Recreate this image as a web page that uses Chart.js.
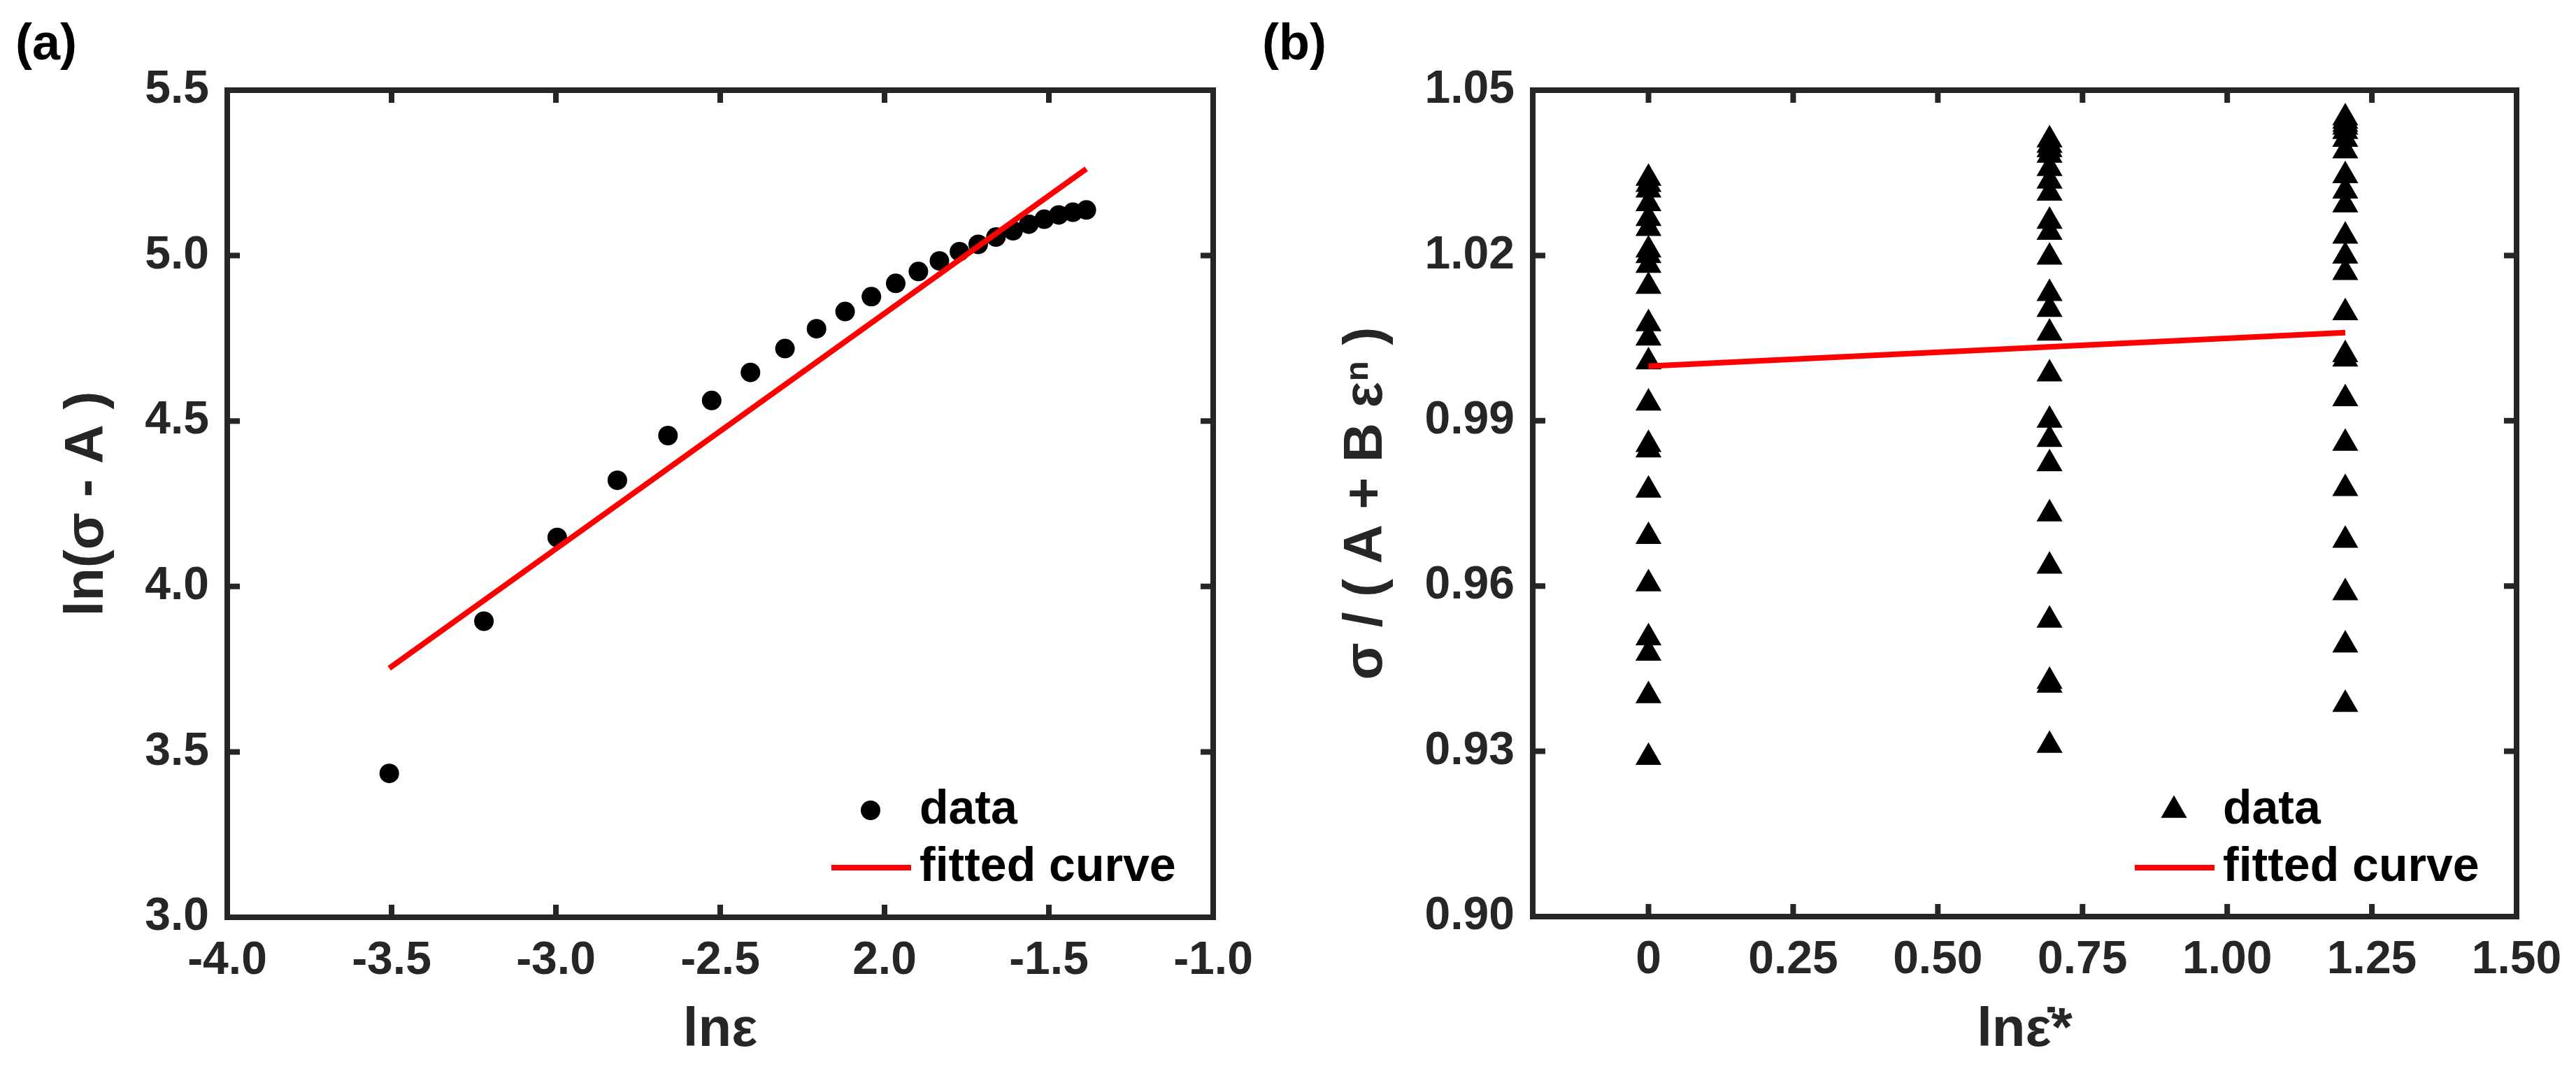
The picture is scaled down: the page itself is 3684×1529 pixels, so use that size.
<!DOCTYPE html>
<html>
<head>
<meta charset="utf-8">
<script src="https://cdn.jsdelivr.net/npm/chart.js@4.4.1/dist/chart.umd.min.js"></script>
<style>
  html, body { margin: 0; padding: 0; background: #fff; }
  #wrapA { position: absolute; left: 0; top: 0; }
  #wrapB { position: absolute; left: 1790px; top: 0; }
</style>
</head>
<body>
<div id="wrapA"><canvas id="chartA" width="1790" height="1529"></canvas></div>
<div id="wrapB"><canvas id="chartB" width="1894" height="1529"></canvas></div>
<script>
// ---- panel (a): ln(sigma - A) vs ln(strain)
const lnStrain = [-3.507, -3.219, -2.996, -2.813, -2.659, -2.526, -2.408, -2.303, -2.207, -2.120, -2.040, -1.966,
                  -1.897, -1.833, -1.772, -1.715, -1.661, -1.609, -1.561, -1.514, -1.470, -1.427, -1.386];
const lnStress = [3.435, 3.895, 4.148, 4.321, 4.456, 4.562, 4.647, 4.719, 4.779, 4.831, 4.876, 4.916,
                  4.952, 4.984, 5.012, 5.034, 5.056, 5.075, 5.095, 5.110, 5.123, 5.131, 5.138];
const fitAx = [-3.507, -1.386];
const fitAy = [3.753, 5.262];
const xTicksA = [-4, -3.5, -3, -2.5, -2, -1.5, -1];
const xTickLabelsA = ['-4.0', '-3.5', '-3.0', '-2.5', '2.0', '-1.5', '-1.0'];
const yTicksA = [3, 3.5, 4, 4.5, 5, 5.5];
const yTickLabelsA = ['3.0', '3.5', '4.0', '4.5', '5.0', '5.5'];

// ---- panel (b): sigma/(A+B eps^n) vs ln(strain rate*)
const lnRate = [0, 0.693, 1.204];
const ratioRate1 = [1.0340, 1.0329, 1.0319, 1.0294, 1.0267, 1.0249, 1.0210, 1.0200, 1.0182, 1.0144, 1.0076, 1.0050,
                    1.0007, 0.9932, 0.9857, 0.9847, 0.9774, 0.9690, 0.9604, 0.9506, 0.9478, 0.9401, 0.9289];
const ratioRate2 = [1.0410, 1.0400, 1.0392, 1.0382, 1.0358, 1.0335, 1.0313, 1.0262, 1.0242, 1.0197, 1.0131, 1.0102,
                    1.0059, 0.9985, 0.9901, 0.9866, 0.9822, 0.9731, 0.9636, 0.9538, 0.9427, 0.9420, 0.9311];
const ratioRate3 = [1.0450, 1.0444, 1.0438, 1.0433, 1.0425, 1.0411, 1.0390, 1.0345, 1.0317, 1.0292, 1.0235, 1.0199,
                    1.0169, 1.0096, 1.0020, 1.0012, 0.9940, 0.9859, 0.9777, 0.9683, 0.9588, 0.9493, 0.9385];
const fitBx = [0, 1.204];
const fitBy = [0.9999, 1.0060];
const xTicksB = [0, 0.25, 0.5, 0.75, 1, 1.25, 1.5];
const xTickLabelsB = ['0', '0.25', '0.50', '0.75', '1.00', '1.25', '1.50'];
const yTicksB = [0.90, 0.93, 0.96, 0.99, 1.02, 1.05];
const yTickLabelsB = ['0.90', '0.93', '0.96', '0.99', '1.02', '1.05'];

const FONT = "'Liberation Sans', Arial, sans-serif";
const AXIS_COLOR = '#262626';
Chart.defaults.font.family = FONT;

const toPoints = (xs, ys) => xs.map((x, i) => ({x: x, y: ys[i]}));

function labelFor(values, labels) {
  return (v) => {
    const i = values.findIndex(t => Math.abs(t - v) < 1e-9);
    return i >= 0 ? labels[i] : '';
  };
}

// box round the plot area with inward ticks on all four sides
const axesBox = {
  id: 'axesBox',
  beforeDatasetsDraw(chart) {
    const {ctx, chartArea: a, scales: {x, y}} = chart;
    const len = 18;
    ctx.save();
    ctx.strokeStyle = AXIS_COLOR;
    ctx.lineWidth = 8;
    ctx.beginPath();
    x.ticks.forEach(t => {
      const px = x.getPixelForValue(t.value);
      if (px > a.left + 2 && px < a.right - 2) {
        ctx.moveTo(px, a.bottom); ctx.lineTo(px, a.bottom - len);
        ctx.moveTo(px, a.top); ctx.lineTo(px, a.top + len);
      }
    });
    y.ticks.forEach(t => {
      const py = y.getPixelForValue(t.value);
      if (py > a.top + 2 && py < a.bottom - 2) {
        ctx.moveTo(a.left, py); ctx.lineTo(a.left + len, py);
        ctx.moveTo(a.right, py); ctx.lineTo(a.right - len, py);
      }
    });
    ctx.stroke();
    ctx.lineJoin = 'miter';
    ctx.strokeRect(a.left, a.top, a.width, a.height);
    ctx.restore();
  }
};

// legend drawn inside the plot, bottom right, no frame
const insideLegend = {
  id: 'insideLegend',
  afterDraw(chart, args, opts) {
    const {ctx, chartArea} = chart;
    const ds = chart.data.datasets;
    const xr = chartArea.right;
    ctx.save();
    ctx.font = 'bold 68px ' + FONT;
    ctx.textBaseline = 'middle';
    ctx.textAlign = 'left';
    opts.rows.forEach((y, i) => {
      const d = ds[i];
      if (d.showLine) {
        ctx.strokeStyle = d.borderColor;
        ctx.lineWidth = d.borderWidth;
        ctx.beginPath();
        ctx.moveTo(xr - 546, y);
        ctx.lineTo(xr - 432, y);
        ctx.stroke();
      } else {
        ctx.fillStyle = d.pointBackgroundColor;
        Chart.helpers.drawPoint(ctx, {pointStyle: d.pointStyle, radius: d.pointRadius, rotation: 0, borderWidth: 0}, xr - 490, y);
      }
      ctx.fillStyle = '#000';
      ctx.fillText(d.label, xr - 420, y);
    });
    ctx.restore();
  }
};

const panelLabel = {
  id: 'panelLabel',
  afterDraw(chart, args, opts) {
    const {ctx} = chart;
    ctx.save();
    ctx.font = 'bold 72px ' + FONT;
    ctx.fillStyle = '#000';
    ctx.textBaseline = 'alphabetic';
    ctx.fillText(opts.text, opts.x, opts.y);
    ctx.restore();
  }
};

function makeOptions(cfg) {
  return {
    responsive: false,
    animation: false,
    devicePixelRatio: 1,
    layout: {padding: {left: 0, top: 129, right: cfg.rightPad, bottom: 0}},
    plugins: {
      legend: {display: false},
      tooltip: {enabled: false},
      insideLegend: {rows: [1159, 1241]},
      panelLabel: cfg.panel
    },
    scales: {
      x: {
        type: 'linear',
        min: cfg.xMin, max: cfg.xMax,
        grid: {display: false, drawTicks: false},
        border: {display: false},
        afterBuildTicks: s => { s.ticks = cfg.xTicks.map(v => ({value: v})); },
        afterFit: s => { s.height = cfg.xAxisH; s.paddingLeft = 0; s.paddingRight = 0; },
        ticks: {
          padding: 23,
          color: AXIS_COLOR,
          font: {size: 66, weight: 'bold'},
          maxRotation: 0,
          autoSkip: false,
          callback: labelFor(cfg.xTicks, cfg.xLabels)
        },
        title: {
          display: true, text: cfg.xTitle, color: AXIS_COLOR,
          font: {size: 78, weight: 'bold'},
          padding: {top: 0, bottom: 8}
        }
      },
      y: {
        type: 'linear',
        min: cfg.yMin, max: cfg.yMax,
        grid: {display: false, drawTicks: false},
        border: {display: false},
        afterBuildTicks: s => { s.ticks = cfg.yTicks.map(v => ({value: v})); },
        afterFit: s => { s.width = cfg.yAxisW; s.paddingTop = 0; s.paddingBottom = 0; },
        ticks: {
          padding: 26,
          color: AXIS_COLOR,
          font: {size: 66, weight: 'bold'},
          autoSkip: false,
          callback: labelFor(cfg.yTicks, cfg.yLabels)
        },
        title: {
          display: true, text: cfg.yTitle, color: AXIS_COLOR,
          font: {size: 78, weight: 'bold'},
          padding: {top: cfg.yTitlePad, bottom: 0}
        }
      }
    }
  };
}

new Chart(document.getElementById('chartA').getContext('2d'), {
  type: 'scatter',
  data: {
    datasets: [{
      label: 'data',
      data: toPoints(lnStrain, lnStress),
      pointStyle: 'circle',
      pointRadius: 14,
      pointBorderWidth: 0,
      pointBackgroundColor: '#000',
      order: 1
    }, {
      label: 'fitted curve',
      data: toPoints(fitAx, fitAy),
      showLine: true,
      borderColor: '#ff0000',
      borderWidth: 8,
      pointRadius: 0,
      order: 0
    }]
  },
  options: makeOptions({
    rightPad: 55, yAxisW: 325, xAxisH: 217, yTitlePad: 79,
    xMin: -4, xMax: -1, yMin: 3, yMax: 5.5,
    xTicks: xTicksA, xLabels: xTickLabelsA, yTicks: yTicksA, yLabels: yTickLabelsA,
    xTitle: 'lnε', yTitle: 'ln(σ - A )',
    panel: {text: '(a)', x: 22, y: 85}
  }),
  plugins: [axesBox, insideLegend, panelLabel]
});

const ratioPoints = [].concat(
  ratioRate1.map(v => ({x: lnRate[0], y: v})),
  ratioRate2.map(v => ({x: lnRate[1], y: v})),
  ratioRate3.map(v => ({x: lnRate[2], y: v}))
);

new Chart(document.getElementById('chartB').getContext('2d'), {
  type: 'scatter',
  data: {
    datasets: [{
      label: 'data',
      data: ratioPoints,
      pointStyle: 'triangle',
      pointRadius: 21.5,
      pointBorderWidth: 0,
      pointBackgroundColor: '#000',
      order: 1
    }, {
      label: 'fitted curve',
      data: toPoints(fitBx, fitBy),
      showLine: true,
      borderColor: '#ff0000',
      borderWidth: 8,
      pointRadius: 0,
      order: 0
    }]
  },
  options: makeOptions({
    rightPad: 85, yAxisW: 402, xAxisH: 218, yTitlePad: 118,
    xMin: -0.2, xMax: 1.5, yMin: 0.90, yMax: 1.05,
    xTicks: xTicksB, xLabels: xTickLabelsB, yTicks: yTicksB, yLabels: yTickLabelsB,
    xTitle: 'lnε̇*', yTitle: 'σ / ( A + B εⁿ )',
    panel: {text: '(b)', x: 15, y: 85}
  }),
  plugins: [axesBox, insideLegend, panelLabel]
});
</script>
</body>
</html>
